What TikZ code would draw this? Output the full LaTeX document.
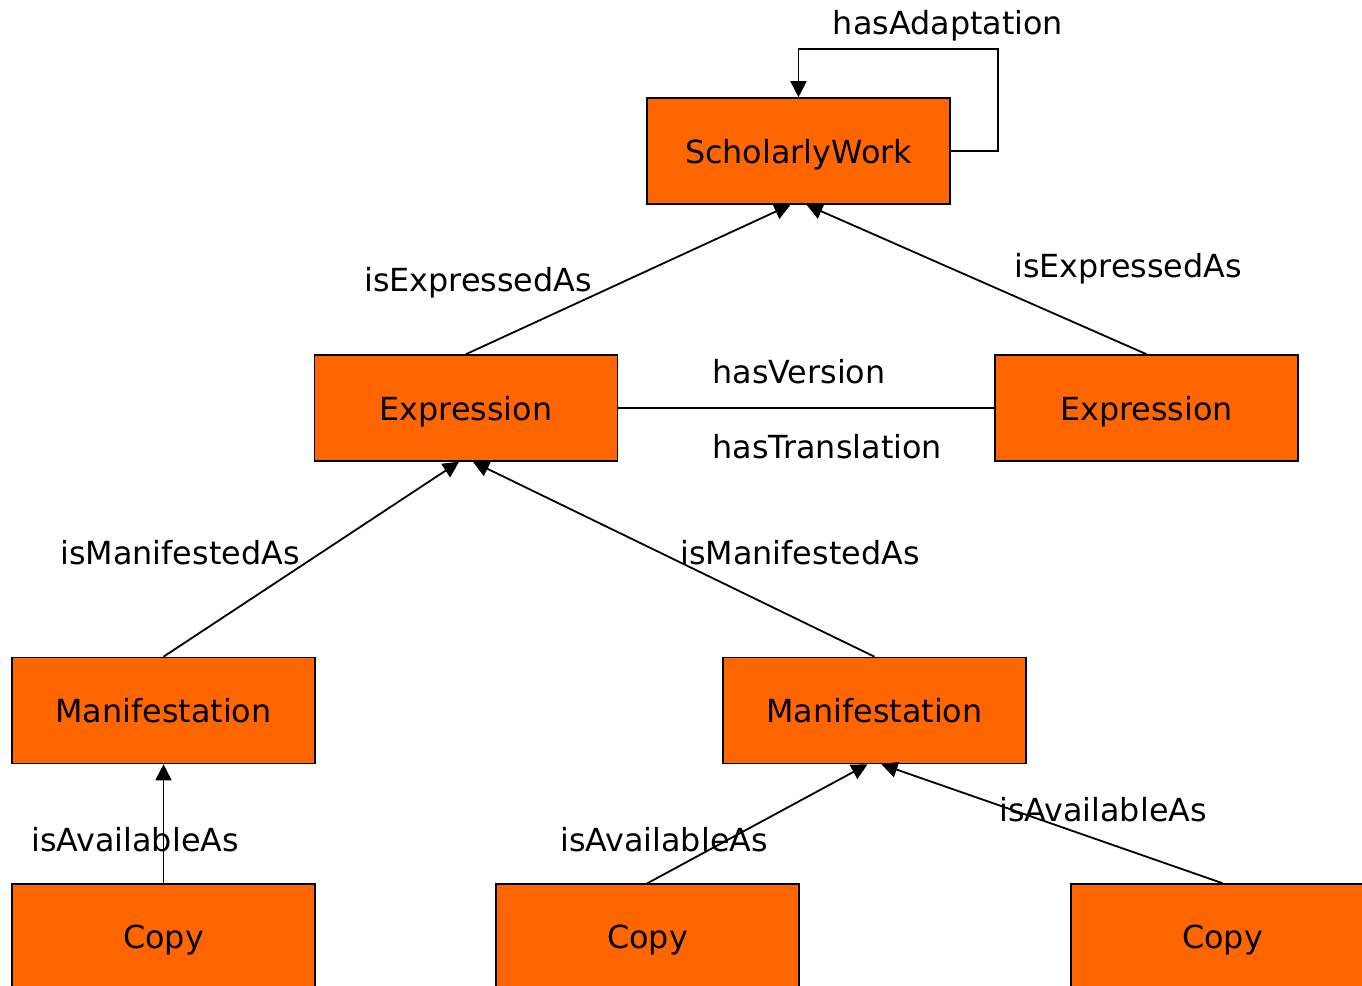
\documentclass[tikz,border=0pt]{standalone}
\usepackage{fontspec}
\setmainfont{DejaVu Sans}
\usetikzlibrary{arrows.meta,positioning,calc}

\begin{document}
\begin{tikzpicture}
[x=0.5pt,y=-0.5pt,
    cls/.style={draw,fill=orange1,line width=.8pt,minimum width=151.5pt,minimum height=53pt,inner sep=0pt,text depth=0pt,font=\fontsize{15.9}{19}\selectfont},
    lab/.style={font=\fontsize{15.9}{19}\selectfont,inner sep=0pt,text depth=0pt},
    myedge/.style={-{Triangle[length=8pt,width=8pt]},line width=.9pt,shorten >=0pt},
    plain/.style={line width=.9pt}]
\definecolor{orange1}{HTML}{FF6600}
\clip (0,0) rectangle (1362,986);
%% nodes
\node (sw) [cls] at (798.5,151) {ScholarlyWork};
\node (exl) [cls] at (466,408) {Expression};
\node (exr) [cls] at (1146.5,408) {Expression};
\node (mal) [cls] at (163.5,710.5) {Manifestation};
\node (mar) [cls] at (874.5,710.5) {Manifestation};
\node (cpl) [cls] at (163.5,937) {Copy};
\node (cpm) [cls] at (647.5,937) {Copy};
\node (cpr) [cls] at (1222.5,937) {Copy};
%% edges
\draw[myedge] (exl.north) -- ($(sw.south)+(-8,0)$);
\draw[myedge] (exr.north) -- ($(sw.south)+(8,0)$);
\draw[plain] (exl.east) -- (exr.west);
\draw[myedge] (mal.north) -- ($(exl.south)+(-7,0)$);
\draw[myedge] (mar.north) -- ($(exl.south)+(7,0)$);
\draw[myedge] (cpl.north) -- (mal.south);
\draw[myedge] (cpm.north) -- ($(mar.south)+(-7,0)$);
\draw[myedge] (cpr.north) -- ($(mar.south)+(7,0)$);
\coordinate (loopa) at (998,151);
\coordinate (loopb) at (998,49);
\draw[myedge] (sw.east) -- (loopa) -- (loopb) -| (sw.north);
%% labels
\node (ladapt) [lab] at (948,22) {hasAdaptation};
\node (lexpl) [lab] at (478,279) {isExpressedAs};
\node (lexpr) [lab] at (1128,265) {isExpressedAs};
\node (lver) [lab,anchor=west] at (712,371) {hasVersion};
\node (ltrans) [lab,anchor=west] at (712,446) {hasTranslation};
\node (lmanl) [lab] at (180,552) {isManifestedAs};
\node (lmanr) [lab] at (800,552) {isManifestedAs};
\node (lavl) [lab] at (135,839) {isAvailableAs};
\node (lavm) [lab] at (664,839) {isAvailableAs};
\node (lavr) [lab] at (1103,809) {isAvailableAs};
\end{tikzpicture}
\end{document}
